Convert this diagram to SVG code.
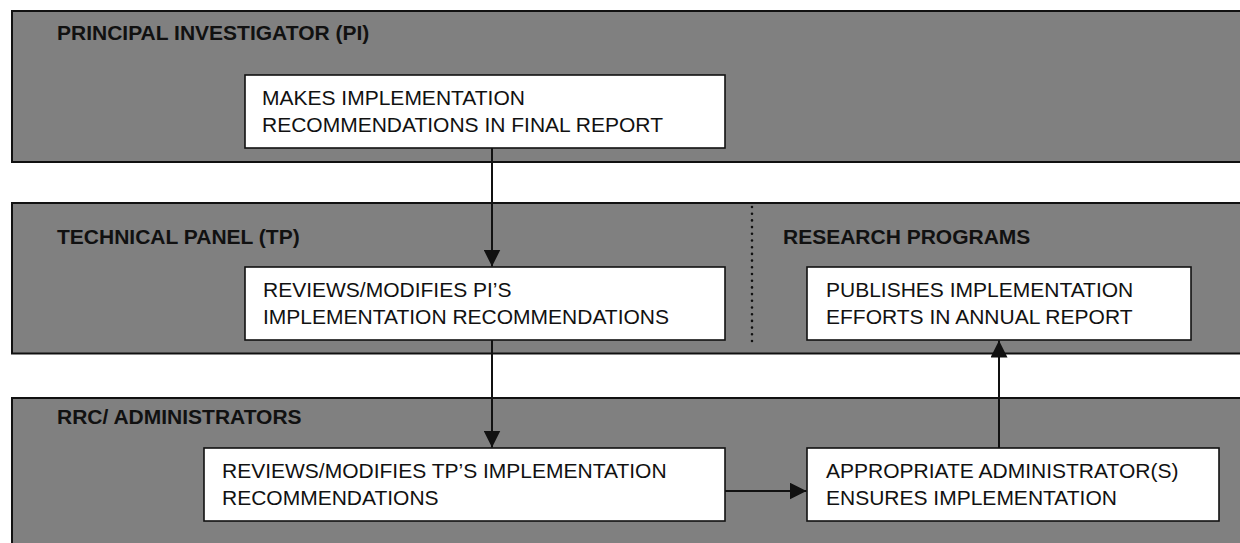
<svg xmlns="http://www.w3.org/2000/svg" width="1240" height="543" viewBox="0 0 1240 543">
  <defs>
    <style>
      .band { fill: #808080; stroke: #111; stroke-width: 2; }
      .box { fill: #fff; stroke: #111; stroke-width: 1.6; }
      .lbl { font-family: "Liberation Sans", Arial, sans-serif; font-size: 21px; font-weight: bold; fill: #111; }
      .txt { font-family: "Liberation Sans", Arial, sans-serif; font-size: 21px; fill: #111; }
      .conn { stroke: #111; stroke-width: 2; fill: none; }
      .dots { stroke: #111; stroke-width: 2.6; stroke-linecap: round; stroke-dasharray: 0 6.7; fill: none; }
    </style>
    <marker id="arr" viewBox="0 0 17 17" refX="17" refY="8.5" markerWidth="17" markerHeight="17" markerUnits="userSpaceOnUse" orient="auto">
      <path d="M0,0 L17,8.5 L0,17 Z" fill="#111"/>
    </marker>
  </defs>

  <g id="lane-pi">
    <rect class="band" x="12" y="11" width="1240" height="151"/>
    <text class="lbl" x="57" y="40">PRINCIPAL INVESTIGATOR (PI)</text>
  </g>
  <g id="lane-tp">
    <rect class="band" x="12" y="203" width="1240" height="150.5"/>
    <text class="lbl" x="57" y="244">TECHNICAL PANEL (TP)</text>
    <text class="lbl" x="783" y="244">RESEARCH PROGRAMS</text>
    <line class="dots" x1="752" y1="207" x2="752" y2="347"/>
  </g>
  <g id="lane-rrc">
    <rect class="band" x="12" y="398" width="1240" height="170"/>
    <text class="lbl" x="57" y="424">RRC/ ADMINISTRATORS</text>
  </g>

  <g id="node-pi-recommend">
    <rect class="box" x="245" y="75" width="480" height="73"/>
    <text class="txt" x="262" y="104.5">MAKES IMPLEMENTATION</text>
    <text class="txt" x="262" y="131.5">RECOMMENDATIONS IN FINAL REPORT</text>
  </g>
  <g id="node-tp-review">
    <rect class="box" x="245" y="267" width="480" height="73"/>
    <text class="txt" x="263" y="296.5">REVIEWS/MODIFIES PI’S</text>
    <text class="txt" x="263" y="323.5">IMPLEMENTATION RECOMMENDATIONS</text>
  </g>
  <g id="node-rp-publish">
    <rect class="box" x="807" y="267" width="384" height="73"/>
    <text class="txt" x="826" y="296.5">PUBLISHES IMPLEMENTATION</text>
    <text class="txt" x="826" y="323.5">EFFORTS IN ANNUAL REPORT</text>
  </g>
  <g id="node-rrc-review">
    <rect class="box" x="204" y="448" width="521" height="73"/>
    <text class="txt" x="222" y="477.5">REVIEWS/MODIFIES TP’S IMPLEMENTATION</text>
    <text class="txt" x="222" y="504.5">RECOMMENDATIONS</text>
  </g>
  <g id="node-admin-ensure">
    <rect class="box" x="807" y="448" width="412" height="73"/>
    <text class="txt" x="826" y="477.5">APPROPRIATE ADMINISTRATOR(S)</text>
    <text class="txt" x="826" y="504.5">ENSURES IMPLEMENTATION</text>
  </g>

  <g id="connectors">
    <line class="conn" x1="492" y1="148" x2="492" y2="266.5" marker-end="url(#arr)"/>
    <line class="conn" x1="492" y1="340" x2="492" y2="447.5" marker-end="url(#arr)"/>
    <line class="conn" x1="725" y1="491" x2="806.5" y2="491" marker-end="url(#arr)"/>
    <line class="conn" x1="999" y1="448" x2="999" y2="340.5" marker-end="url(#arr)"/>
  </g>
</svg>
